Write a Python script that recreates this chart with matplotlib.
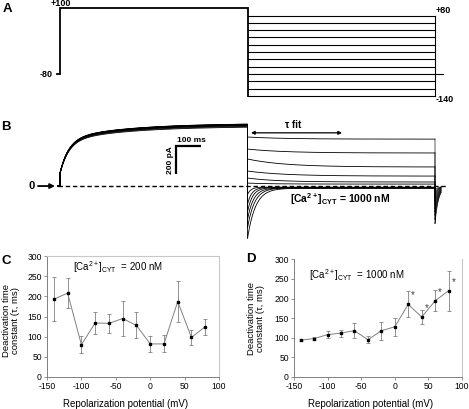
import numpy as np
import matplotlib
matplotlib.use("Agg")
import matplotlib.pyplot as plt

plt.rcParams['font.family'] = ['Liberation Sans', 'DejaVu Sans']
plt.rcParams['mathtext.fontset'] = 'custom'
plt.rcParams['mathtext.rm'] = 'Liberation Sans'
plt.rcParams['mathtext.it'] = 'Liberation Sans:italic'
plt.rcParams['mathtext.bf'] = 'Liberation Sans:bold'
plt.rcParams['axes.unicode_minus'] = False

# ---------------- data ----------------
# Panel A: voltage protocol (mV, ms)
holding_mv = -80
prepulse_mv = 100
tail_mv = [80, 60, 40, 20, 0, -20, -40, -60, -80, -100, -120, -140]
t_prepulse = [0, 750]
t_tail = [750, 1500]
t_return = [1500, 1530]

# Panel B: currents (pA)
pre_jump_pa = 93
pre_fast_amp, pre_fast_tau = 240, 35
pre_slow_amp, pre_slow_tau = 115, 250
pre_sweep_scale = [1.0, 0.998, 0.995, 0.993, 0.99, 0.988, 0.985, 0.982, 0.978, 0.972, 0.962, 0.95]
tail_start_pa = [350, 264, 193, 107, 57, 21, -60, -130, -185, -240, -300, -375]
tail_steady_pa = [335, 236, 136, 71, 29, 14, -8, -10, -12, -14, -14, -16]
tail_tau_ms = [150, 150, 150, 150, 120, 100, 14, 17, 20, 24, 28, 32]
offtail_peak_pa = [-270, -240, -210, -185, -160, -135, -115, -95, -75, -60, -45, -30]
offtail_tau_ms = 14

# Panels C & D
potential_mv = [-140, -120, -100, -80, -60, -40, -20, 0, 20, 40, 60, 80]
tau_200nM = [193, 208, 80, 134, 133, 145, 128, 82, 82, 187, 98, 125]
err_200nM = [54, 37, 21, 27, 23, 43, 32, 19, 21, 51, 19, 20]
tau_1000nM = [94, 98, 108, 112, 118, 95, 118, 128, 185, 153, 194, 220]
err_1000nM = [3, 3, 8, 9, 19, 9, 23, 23, 33, 18, 27, 51]
signif_potentials = [20, 40, 60, 80]

# ---------------- figure ----------------
W, H = 469, 409
fig = plt.figure(figsize=(W / 100, H / 100), dpi=100)

T_LEFT, T_RIGHT = -240, 1636   # ms across full width

# ---- Panel A ----
axA = fig.add_axes([0, 1 - 108 / H, 1, 108 / H])
axA.axis('off')
axA.set_xlim(T_LEFT, T_RIGHT)
axA.set_ylim(-173.2, 122.7)
k = 'black'
axA.plot([-12, t_prepulse[0], t_prepulse[0], t_prepulse[1], t_prepulse[1]],
         [holding_mv, holding_mv, prepulse_mv, prepulse_mv, min(tail_mv)],
         color=k, lw=1.3, solid_joinstyle='miter')
for v in tail_mv:
    axA.plot(t_tail, [v, v], color=k, lw=0.8)
axA.plot([t_tail[1], t_tail[1]], [max(tail_mv), min(tail_mv)], color=k, lw=0.8)
axA.plot(t_return, [holding_mv, holding_mv], color=k, lw=0.8)
fsA = 6.5
axA.text(4, prepulse_mv + 12, '+100', ha='center', va='center', fontsize=fsA, fontweight='bold')
axA.text(-30, holding_mv - 2.7, '-80', ha='right', va='center', fontsize=fsA, fontweight='bold')
axA.text(1504, max(tail_mv) + 12.6, '+80', ha='left', va='center', fontsize=fsA, fontweight='bold')
axA.text(1504, min(tail_mv) - 11, '-140', ha='left', va='center', fontsize=fsA, fontweight='bold')

# ---- Panel B ----
axB = fig.add_axes([0, 1 - 245 / H, 1, 135 / H])
axB.axis('off')
axB.set_xlim(T_LEFT, T_RIGHT)
axB.set_ylim(-421, 543)

tp = np.linspace(0, 750, 400)
tt = np.linspace(750, 1500, 600)
to = np.linspace(1500, 1525, 40)
for i in range(len(tail_mv)):
    s = pre_sweep_scale[i]
    ipre = s * (pre_jump_pa + pre_fast_amp * (1 - np.exp(-tp / pre_fast_tau))
                + pre_slow_amp * (1 - np.exp(-tp / pre_slow_tau)))
    itail = tail_steady_pa[i] + (tail_start_pa[i] - tail_steady_pa[i]) * np.exp(-(tt - 750) / tail_tau_ms[i])
    ioff = offtail_peak_pa[i] * np.exp(-(to - 1500) / offtail_tau_ms)
    t_all = np.concatenate([[-8, 0], tp, tt])
    i_all = np.concatenate([[0, 0], ipre, itail])
    axB.plot(t_all, i_all, color='black', lw=0.6)
    axB.plot(np.concatenate([[1500], to]), np.concatenate([[itail[-1]], ioff]),
             color='black', lw=0.45)

axB.plot([-8, 1548], [0, 0], color='black', lw=1.0, ls=(0, (3.2, 2.0)), zorder=5)
axB.text(-114, 0, '0', ha='center', va='center', fontsize=8, fontweight='bold')
axB.annotate('', xy=(-20, 0), xytext=(-88, 0),
             arrowprops=dict(arrowstyle='-|>', color='black', lw=1.3,
                             mutation_scale=7, shrinkA=0, shrinkB=0))
# scale bar
sb_t, sb_i = 464, 285.6
axB.plot([sb_t + 100, sb_t, sb_t], [sb_i, sb_i, sb_i - 200], color='black', lw=1.6,
         solid_joinstyle='miter', solid_capstyle='butt')
axB.text(sb_t + 4, sb_i + 39, '100 ms', ha='left', va='center', fontsize=6, fontweight='bold')
axB.text(sb_t - 24, sb_i - 100, '200 pA', ha='center', va='center', rotation=90,
         fontsize=6, fontweight='bold')
# tau fit arrow
axB.annotate('', xy=(1128, 380), xytext=(764, 380),
             arrowprops=dict(arrowstyle='<|-|>', color='black', lw=0.9,
                             mutation_scale=5, shrinkA=0, shrinkB=0))
axB.text(934, 435, 'τ fit', ha='center', va='center', fontsize=7, fontweight='bold')
axB.text(1120, -93, r'[Ca$^{\mathbf{2+}}$]$_{\mathbf{CYT}}$ = 1000 nM', ha='center', va='center',
         fontsize=7.5, fontweight='bold')

# ---- Panels C & D ----
grey = '#808080'
light = '#c8c8c8'


def stats_panel(rect, tau, err, conc_text, top_spine, text_xy):
    ax = fig.add_axes(rect)
    ax.errorbar(potential_mv, tau, yerr=err, fmt='-', color=grey, lw=0.7,
                ecolor=grey, elinewidth=0.6, capsize=1.6, capthick=0.6, zorder=2)
    ax.plot(potential_mv, tau, 's', color='black', ms=2.0, zorder=3)
    ax.set_xlim(-150, 100)
    ax.set_ylim(0, 300)
    ax.set_xticks(range(-150, 101, 50))
    ax.set_yticks(range(0, 301, 50))
    ax.tick_params(direction='out', length=2.2, width=0.6, color=grey,
                   labelsize=6.2, pad=1.5)
    for sp in ['left', 'bottom']:
        ax.spines[sp].set_color(grey)
        ax.spines[sp].set_linewidth(0.7)
    ax.spines['right'].set_color(light)
    ax.spines['right'].set_linewidth(0.8)
    ax.spines['top'].set_color(light)
    ax.spines['top'].set_linewidth(0.8)
    ax.spines['top'].set_visible(top_spine)
    ax.set_xlabel('Repolarization potential (mV)', fontsize=7)
    ax.set_ylabel('Deactivation time\nconstant (τ, ms)', fontsize=6.8, linespacing=1.0)
    ax.text(text_xy[0], text_xy[1], conc_text, transform=ax.transAxes,
            fontsize=7, ha='left', va='center')
    return ax


axC = stats_panel([47 / W, 1 - 377 / H, 172 / W, 121 / H], tau_200nM, err_200nM,
                  r'[Ca$^{2+}$]$_{\mathrm{CYT}}$  = 200 nM', True, (0.15, 0.91))
axC.xaxis.set_label_coords(0.456, -0.18)
axC.yaxis.set_label_coords(-0.155, 0.47)

axD = stats_panel([294 / W, 1 - 377 / H, 168 / W, 117.7 / H], tau_1000nM, err_1000nM,
                  r'[Ca$^{2+}$]$_{\mathrm{CYT}}$  = 1000 nM', False, (0.09, 0.865))
axD.xaxis.set_label_coords(0.458, -0.19)
axD.yaxis.set_label_coords(-0.172, 0.5)
for p in signif_potentials:
    j = potential_mv.index(p)
    axD.annotate('*', xy=(p, tau_1000nM[j]), xytext=(3.5, 6.5), textcoords='offset points',
                 ha='center', va='center', fontsize=7, color='#404040')

# panel letters
for lab, (px, py) in zip('ABCD', [(2.5, 9.5), (1.5, 127.5), (2, 260.5), (246.5, 259.5)]):
    fig.text(px / W, 1 - py / H, lab, fontsize=9.5, fontweight='bold', ha='left', va='center')

fig.savefig('out.png', dpi=100)
